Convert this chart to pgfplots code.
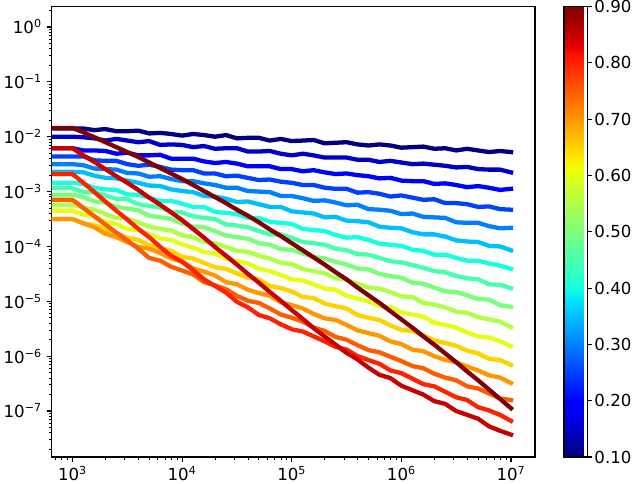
\documentclass[border=0pt]{standalone}
\usepackage{fontspec}
\setmainfont{DejaVu Sans}
\usepackage{pgfplots}
\usepackage{pgfplotstable}
\pgfplotsset{compat=1.18}

\definecolor{c10}{RGB}{0,0,128}
\definecolor{c15}{RGB}{0,0,200}
\definecolor{c20}{RGB}{0,0,255}
\definecolor{c25}{RGB}{0,64,255}
\definecolor{c30}{RGB}{0,128,255}
\definecolor{c35}{RGB}{0,191,255}
\definecolor{c40}{RGB}{21,255,226}
\definecolor{c45}{RGB}{72,255,175}
\definecolor{c50}{RGB}{123,255,123}
\definecolor{c55}{RGB}{175,255,72}
\definecolor{c60}{RGB}{226,255,21}
\definecolor{c65}{RGB}{255,210,0}
\definecolor{c70}{RGB}{255,151,0}
\definecolor{c75}{RGB}{255,92,0}
\definecolor{c80}{RGB}{255,33,0}
\definecolor{c85}{RGB}{200,0,0}
\definecolor{c90}{RGB}{128,0,0}

\pgfplotsset{colormap={mjet}{rgb255(0cm)=(0,0,128); rgb255(22cm)=(0,0,255); rgb255(25cm)=(0,0,255); rgb255(68cm)=(0,219,255); rgb255(70cm)=(0,230,247); rgb255(75cm)=(21,255,226); rgb255(128cm)=(239,255,8); rgb255(130cm)=(247,246,0); rgb255(132cm)=(255,236,0); rgb255(178cm)=(255,19,0); rgb255(182cm)=(232,0,0); rgb255(200cm)=(128,0,0)}}

\newcommand{\tp}[1]{10\textsuperscript{#1}}

\pgfplotstableread{
x a10 a15 a20 a25 a30 a35 a40 a45 a50 a55 a60 a65 a70 a75 a80 a85 a90
5.000e2 1.413e-2 1.000e-2 6.166e-3 4.365e-3 3.162e-3 2.291e-3 1.445e-3 1.148e-3 8.710e-4 5.754e-4 4.467e-4 3.162e-4 3.162e-4 7.079e-4 2.089e-3 6.166e-3 1.445e-2
1.000e3 1.413e-2 1.000e-2 6.166e-3 4.365e-3 3.162e-3 2.291e-3 1.445e-3 1.148e-3 8.710e-4 5.754e-4 4.467e-4 3.162e-4 3.162e-4 7.079e-4 2.089e-3 6.166e-3 1.445e-2
1.259e3 1.413e-2 9.772e-3 5.623e-3 4.365e-3 3.020e-3 2.239e-3 1.380e-3 9.772e-4 7.943e-4 5.129e-4 3.802e-4 2.630e-4 2.630e-4 5.012e-4 1.445e-3 4.571e-3 1.202e-2
1.585e3 1.318e-2 9.333e-3 5.623e-3 3.715e-3 2.630e-3 1.950e-3 1.175e-3 9.772e-4 6.607e-4 4.677e-4 3.467e-4 2.455e-4 2.239e-4 3.548e-4 9.772e-4 3.467e-3 9.772e-3
1.995e3 1.380e-2 8.511e-3 5.495e-3 3.631e-3 2.570e-3 1.778e-3 1.096e-3 8.511e-4 6.310e-4 3.890e-4 2.818e-4 2.042e-4 1.698e-4 2.512e-4 6.607e-4 2.570e-3 7.943e-3
2.512e3 1.259e-2 9.120e-3 4.898e-3 3.631e-3 2.512e-3 1.738e-3 1.072e-3 7.413e-4 5.248e-4 3.311e-4 2.570e-4 1.738e-4 1.479e-4 1.778e-4 4.467e-4 1.905e-3 6.457e-3
3.162e3 1.259e-2 8.511e-3 5.129e-3 3.162e-3 2.188e-3 1.585e-3 8.913e-4 7.244e-4 4.898e-4 3.236e-4 2.089e-4 1.445e-4 1.202e-4 1.288e-4 3.090e-4 1.445e-3 5.248e-3
3.981e3 1.288e-2 7.943e-3 4.571e-3 2.951e-3 2.138e-3 1.445e-3 8.710e-4 5.888e-4 4.571e-4 2.754e-4 1.995e-4 1.318e-4 9.772e-5 9.120e-5 2.089e-4 1.072e-3 4.266e-3
5.012e3 1.148e-2 8.318e-3 4.571e-3 3.090e-3 1.862e-3 1.288e-3 7.762e-4 5.495e-4 3.631e-4 2.291e-4 1.660e-4 1.047e-4 9.120e-5 6.166e-5 1.479e-4 7.762e-4 3.388e-3
6.310e3 1.175e-2 7.079e-3 4.677e-3 2.818e-3 1.905e-3 1.259e-3 6.761e-4 5.129e-4 3.388e-4 2.089e-4 1.413e-4 9.333e-5 7.586e-5 5.495e-5 9.772e-5 5.754e-4 2.692e-3
7.943e3 1.122e-2 7.244e-3 3.981e-3 2.512e-3 1.698e-3 1.096e-3 6.761e-4 4.266e-4 3.162e-4 1.950e-4 1.318e-4 8.318e-5 6.026e-5 4.266e-5 6.761e-5 4.169e-4 2.138e-3
1.000e4 1.047e-2 7.079e-3 3.981e-3 2.455e-3 1.549e-3 1.023e-3 6.026e-4 4.169e-4 2.630e-4 1.585e-4 1.096e-4 6.457e-5 5.370e-5 3.631e-5 5.248e-5 3.020e-4 1.698e-3
1.259e4 1.122e-2 6.457e-3 3.981e-3 2.455e-3 1.549e-3 9.772e-4 5.248e-4 3.548e-4 2.291e-4 1.479e-4 9.550e-5 6.026e-5 3.981e-5 3.090e-5 3.715e-5 2.089e-4 1.318e-3
1.585e4 1.072e-2 6.761e-3 3.548e-3 2.138e-3 1.413e-3 8.318e-4 5.248e-4 3.311e-4 2.239e-4 1.202e-4 7.943e-5 5.012e-5 3.467e-5 2.239e-5 2.512e-5 1.445e-4 1.023e-3
1.995e4 1.000e-2 6.026e-3 3.311e-3 2.138e-3 1.318e-3 8.128e-4 4.266e-4 3.162e-4 1.905e-4 1.148e-4 7.413e-5 4.169e-5 2.951e-5 1.950e-5 1.905e-5 9.772e-5 7.943e-4
2.512e4 1.072e-2 6.166e-3 3.467e-3 1.905e-3 1.175e-3 7.413e-4 4.074e-4 2.512e-4 1.585e-4 9.772e-5 6.026e-5 3.890e-5 2.239e-5 1.660e-5 1.445e-5 6.761e-5 6.166e-4
3.162e4 9.333e-3 6.166e-3 3.236e-3 1.950e-3 1.175e-3 6.457e-4 3.890e-4 2.399e-4 1.479e-4 8.318e-5 5.370e-5 3.236e-5 2.042e-5 1.259e-5 9.772e-6 4.677e-5 4.677e-4
3.981e4 9.550e-3 5.370e-3 2.884e-3 1.778e-3 1.023e-3 6.607e-4 3.311e-4 2.239e-4 1.380e-4 7.943e-5 4.898e-5 2.692e-5 1.622e-5 1.023e-5 7.762e-6 3.162e-5 3.631e-4
5.012e4 9.550e-3 5.370e-3 2.884e-3 1.622e-3 1.000e-3 5.888e-4 3.311e-4 1.905e-4 1.148e-4 6.761e-5 3.890e-5 2.512e-5 1.413e-5 9.333e-6 5.623e-6 2.188e-5 2.754e-4
6.310e4 8.511e-3 5.495e-3 2.884e-3 1.660e-3 9.772e-4 5.248e-4 2.818e-4 1.660e-4 1.072e-4 6.026e-5 3.548e-5 1.905e-5 1.259e-5 7.413e-6 4.898e-6 1.479e-5 2.042e-4
7.943e4 9.120e-3 4.898e-3 2.570e-3 1.514e-3 8.318e-4 5.248e-4 2.692e-4 1.660e-4 8.913e-5 5.012e-5 3.020e-5 1.738e-5 9.550e-6 5.754e-6 3.802e-6 1.023e-5 1.549e-4
1.000e5 8.318e-3 4.571e-3 2.570e-3 1.445e-3 8.318e-4 4.365e-4 2.570e-4 1.445e-4 8.710e-5 4.786e-5 2.512e-5 1.514e-5 8.511e-6 5.012e-6 3.090e-6 6.918e-6 1.148e-4
1.259e5 8.511e-3 4.898e-3 2.344e-3 1.318e-3 7.586e-4 4.169e-4 2.089e-4 1.202e-4 7.413e-5 3.890e-5 2.399e-5 1.202e-5 7.413e-6 4.266e-6 2.818e-6 4.786e-6 8.511e-5
1.585e5 8.710e-3 4.571e-3 2.455e-3 1.318e-3 6.761e-4 3.981e-4 1.995e-4 1.148e-4 6.457e-5 3.548e-5 2.042e-5 1.148e-5 5.888e-6 3.311e-6 2.291e-6 3.236e-6 6.310e-5
1.995e5 7.586e-3 4.169e-3 2.239e-3 1.175e-3 6.918e-4 3.388e-4 1.905e-4 1.072e-4 6.026e-5 3.236e-5 1.698e-5 9.120e-6 4.898e-6 2.884e-6 1.862e-6 2.291e-6 4.677e-5
2.512e5 7.762e-3 4.169e-3 2.089e-3 1.122e-3 6.310e-4 3.467e-4 1.622e-4 9.120e-5 5.248e-5 2.630e-5 1.622e-5 8.128e-6 4.571e-6 2.239e-6 1.479e-6 1.622e-6 3.388e-5
3.162e5 7.943e-3 4.169e-3 2.138e-3 1.122e-3 5.623e-4 2.951e-4 1.445e-4 8.511e-5 4.677e-5 2.455e-5 1.259e-5 7.413e-6 3.715e-6 1.995e-6 1.318e-6 1.148e-6 2.512e-5
3.981e5 7.244e-3 3.802e-3 1.995e-3 9.550e-4 5.754e-4 2.884e-4 1.479e-4 7.244e-5 3.981e-5 2.089e-5 1.122e-5 5.623e-6 2.951e-6 1.585e-6 1.000e-6 8.710e-7 1.778e-5
5.012e5 6.918e-3 3.802e-3 1.905e-3 9.772e-4 4.786e-4 2.754e-4 1.318e-4 7.079e-5 3.802e-5 1.778e-5 1.000e-5 5.012e-6 2.630e-6 1.288e-6 8.511e-7 6.166e-7 1.288e-5
6.310e5 7.244e-3 3.467e-3 1.738e-3 9.120e-4 4.677e-4 2.291e-4 1.122e-4 6.166e-5 3.162e-5 1.698e-5 8.128e-6 4.571e-6 2.344e-6 1.175e-6 7.244e-7 4.571e-7 9.333e-6
7.943e5 6.918e-3 3.631e-3 1.778e-3 8.128e-4 4.467e-4 2.188e-4 1.072e-4 5.370e-5 2.884e-5 1.479e-5 7.762e-6 3.631e-6 1.862e-6 9.772e-7 5.495e-7 3.981e-7 6.607e-6
1.000e6 6.310e-3 3.388e-3 1.585e-3 8.511e-4 3.890e-4 2.138e-4 1.023e-4 5.129e-5 2.692e-5 1.230e-5 6.310e-6 3.020e-6 1.660e-6 8.128e-7 4.898e-7 2.884e-7 4.677e-6
1.259e6 6.457e-3 3.162e-3 1.549e-3 7.762e-4 3.981e-4 1.820e-4 8.710e-5 4.571e-5 2.188e-5 1.202e-5 5.754e-6 2.884e-6 1.318e-6 6.607e-7 3.890e-7 2.399e-7 3.311e-6
1.585e6 6.607e-3 3.236e-3 1.549e-3 7.079e-4 3.467e-4 1.660e-4 8.318e-5 4.074e-5 2.089e-5 9.333e-6 5.248e-6 2.399e-6 1.230e-6 6.026e-7 3.090e-7 1.995e-7 2.291e-6
1.995e6 6.026e-3 3.090e-3 1.380e-3 7.244e-4 3.388e-4 1.660e-4 7.079e-5 3.548e-5 1.778e-5 8.710e-6 4.074e-6 1.950e-6 1.000e-6 4.786e-7 2.818e-7 1.514e-7 1.622e-6
2.512e6 6.166e-3 2.951e-3 1.413e-3 6.166e-4 3.311e-4 1.514e-4 7.079e-5 3.388e-5 1.514e-5 7.762e-6 3.715e-6 1.738e-6 8.511e-7 4.074e-7 2.239e-7 1.349e-7 1.122e-6
3.162e6 5.623e-3 2.754e-3 1.318e-3 6.166e-4 2.754e-4 1.288e-4 6.166e-5 2.884e-5 1.479e-5 6.457e-6 3.311e-6 1.549e-6 7.762e-7 3.631e-7 1.778e-7 1.000e-7 7.762e-7
3.981e6 6.026e-3 2.818e-3 1.202e-3 5.888e-4 2.692e-4 1.230e-4 5.495e-5 2.630e-5 1.288e-5 6.166e-6 2.692e-6 1.259e-6 6.457e-7 2.818e-7 1.585e-7 8.511e-8 5.248e-7
5.012e6 5.623e-3 2.570e-3 1.259e-3 5.248e-4 2.692e-4 1.202e-4 5.495e-5 2.512e-5 1.096e-5 5.129e-6 2.291e-6 1.122e-6 5.495e-7 2.570e-7 1.175e-7 7.244e-8 3.631e-7
6.310e6 5.248e-3 2.512e-3 1.175e-3 5.370e-4 2.344e-4 1.023e-4 4.898e-5 2.042e-5 1.072e-5 4.677e-6 2.188e-6 8.913e-7 4.467e-7 2.089e-7 1.023e-7 5.248e-8 2.455e-7
7.943e6 5.495e-3 2.512e-3 1.072e-3 4.786e-4 2.138e-4 1.000e-4 4.467e-5 1.995e-5 8.511e-6 4.266e-6 1.862e-6 8.511e-7 4.074e-7 1.698e-7 8.511e-8 4.365e-8 1.660e-7
1.000e7 5.248e-3 2.239e-3 1.122e-3 4.677e-4 2.188e-4 8.511e-5 3.890e-5 1.738e-5 7.943e-6 3.388e-6 1.514e-6 6.918e-7 3.236e-7 1.585e-7 6.607e-8 3.715e-8 1.122e-7
}\datatable

\begin{document}
\begin{tikzpicture}
\useasboundingbox (-0.515in,-0.27in) rectangle (5.865in,4.57in);
\begin{axis}[
  at={(0,0)}, anchor=south west,
  scale only axis, width=4.835in, height=4.505in,
  xmode=log, ymode=log,
  xmin=643.7, xmax=1.655e7, ymin=1.452e-8, ymax=2.364,
  xtick={1e3,1e4,1e5,1e6,1e7},
  xticklabels={\tp{3},\tp{4},\tp{5},\tp{6},\tp{7}},
  ytick={1e-7,1e-6,1e-5,1e-4,1e-3,1e-2,1e-1,1},
  yticklabels={\tp{−7},\tp{−6},\tp{−5},\tp{−4},\tp{−3},\tp{−2},\tp{−1},\tp{0}},
  minor xtick={7e2,8e2,9e2,2e3,3e3,4e3,5e3,6e3,7e3,8e3,9e3,2e4,3e4,4e4,5e4,6e4,7e4,8e4,9e4,2e5,3e5,4e5,5e5,6e5,7e5,8e5,9e5,2e6,3e6,4e6,5e6,6e6,7e6,8e6,9e6},
  minor ytick={2e-8,3e-8,4e-8,5e-8,6e-8,7e-8,8e-8,9e-8,2e-7,3e-7,4e-7,5e-7,6e-7,7e-7,8e-7,9e-7,2e-6,3e-6,4e-6,5e-6,6e-6,7e-6,8e-6,9e-6,2e-5,3e-5,4e-5,5e-5,6e-5,7e-5,8e-5,9e-5,2e-4,3e-4,4e-4,5e-4,6e-4,7e-4,8e-4,9e-4,2e-3,3e-3,4e-3,5e-3,6e-3,7e-3,8e-3,9e-3,2e-2,3e-2,4e-2,5e-2,6e-2,7e-2,8e-2,9e-2,2e-1,3e-1,4e-1,5e-1,6e-1,7e-1,8e-1,9e-1,2},
  tick align=outside,
  tick pos=left,
  major tick length=3.5pt,
  minor tick length=2pt,
  major tick style={black, line width=0.8pt},
  minor tick style={black, line width=0.6pt},
  axis line style={black, line width=0.8pt},
  tick label style={font=\fontsize{12}{14}\selectfont},
  every axis plot/.append style={line width=3.1pt, line join=round, line cap=rect},
  colormap name=mjet,
  point meta min=0.1, point meta max=0.9,
  colorbar,
  colorbar style={
    at={(parent axis.north east)}, anchor=north west, xshift=0.172in,
    scale only axis, width=0.235in, height=4.505in,
    ytick={0.1,0.2,0.3,0.4,0.5,0.6,0.7,0.8,0.9},
    yticklabels={0.10,0.20,0.30,0.40,0.50,0.60,0.70,0.80,0.90},
    ytick pos=right, yticklabel pos=right,
    tick align=outside,
    major tick length=3.5pt,
    major tick style={black, line width=0.8pt},
    axis line style={black, line width=0.8pt},
    yticklabel style={font=\fontsize{12}{14}\selectfont, xshift=-2pt},
  },
]
\addplot[c10] table[x=x, y=a10] {\datatable};
\addplot[c15] table[x=x, y=a15] {\datatable};
\addplot[c20] table[x=x, y=a20] {\datatable};
\addplot[c25] table[x=x, y=a25] {\datatable};
\addplot[c30] table[x=x, y=a30] {\datatable};
\addplot[c35] table[x=x, y=a35] {\datatable};
\addplot[c40] table[x=x, y=a40] {\datatable};
\addplot[c45] table[x=x, y=a45] {\datatable};
\addplot[c50] table[x=x, y=a50] {\datatable};
\addplot[c55] table[x=x, y=a55] {\datatable};
\addplot[c60] table[x=x, y=a60] {\datatable};
\addplot[c65] table[x=x, y=a65] {\datatable};
\addplot[c70] table[x=x, y=a70] {\datatable};
\addplot[c75] table[x=x, y=a75] {\datatable};
\addplot[c80] table[x=x, y=a80] {\datatable};
\addplot[c85] table[x=x, y=a85] {\datatable};
\addplot[c90] table[x=x, y=a90] {\datatable};
\end{axis}
\end{tikzpicture}
\end{document}
